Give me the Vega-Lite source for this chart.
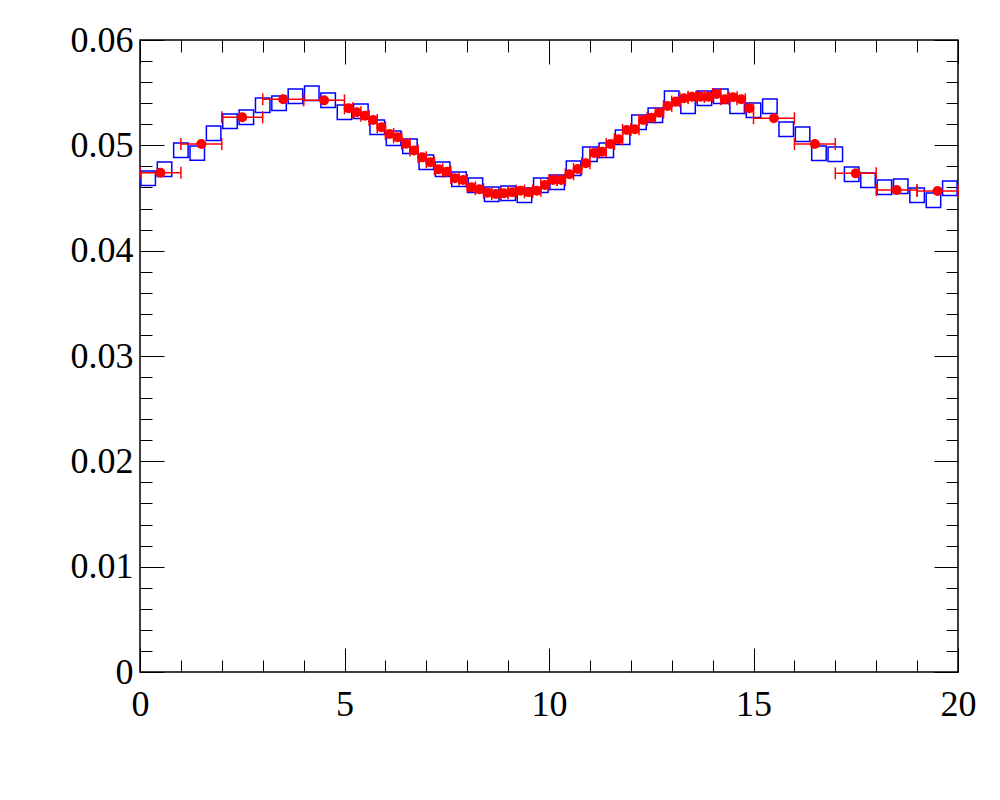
{
  "$schema": "https://vega.github.io/schema/vega-lite/v6.json",
  "width": 818,
  "height": 632,
  "autosize": {"type": "none"},
  "padding": {"left": 140, "top": 40, "right": 42, "bottom": 128},
  "background": "white",
  "config": {
    "view": {"stroke": "black", "strokeWidth": 1.5},
    "axis": {"labelFont": "Liberation Serif", "labelFontSize": 36, "labelColor": "black", "tickColor": "black", "tickWidth": 1, "domain": false, "grid": false, "title": null}
  },
  "datasets": {
    "blue": [
      {"x": 0.2, "y": 0.04687}, {"x": 0.6, "y": 0.04772}, {"x": 1.0, "y": 0.04953}, {"x": 1.4, "y": 0.04926},
      {"x": 1.8, "y": 0.05114}, {"x": 2.2, "y": 0.05228}, {"x": 2.6, "y": 0.05266}, {"x": 3.0, "y": 0.0538},
      {"x": 3.4, "y": 0.05399}, {"x": 3.8, "y": 0.05465}, {"x": 4.2, "y": 0.05494}, {"x": 4.6, "y": 0.05427},
      {"x": 5.0, "y": 0.05314}, {"x": 5.4, "y": 0.05323}, {"x": 5.8, "y": 0.05171}, {"x": 6.2, "y": 0.05067},
      {"x": 6.6, "y": 0.04991}, {"x": 7.0, "y": 0.04839}, {"x": 7.4, "y": 0.04772}, {"x": 7.8, "y": 0.04678},
      {"x": 8.2, "y": 0.04621}, {"x": 8.6, "y": 0.04535}, {"x": 9.0, "y": 0.04545}, {"x": 9.4, "y": 0.04526},
      {"x": 9.8, "y": 0.04621}, {"x": 10.2, "y": 0.04649}, {"x": 10.6, "y": 0.04782}, {"x": 11.0, "y": 0.04916},
      {"x": 11.4, "y": 0.04953}, {"x": 11.8, "y": 0.05076}, {"x": 12.2, "y": 0.05219}, {"x": 12.6, "y": 0.05285},
      {"x": 13.0, "y": 0.05447}, {"x": 13.4, "y": 0.05371}, {"x": 13.8, "y": 0.05447}, {"x": 14.2, "y": 0.05466},
      {"x": 14.6, "y": 0.05371}, {"x": 15.0, "y": 0.05333}, {"x": 15.4, "y": 0.05371}, {"x": 15.8, "y": 0.05152},
      {"x": 16.2, "y": 0.05105}, {"x": 16.6, "y": 0.04925}, {"x": 17.0, "y": 0.04915}, {"x": 17.4, "y": 0.04725},
      {"x": 17.8, "y": 0.04668}, {"x": 18.2, "y": 0.04602}, {"x": 18.6, "y": 0.04611}, {"x": 19.0, "y": 0.04526},
      {"x": 19.4, "y": 0.04478}, {"x": 19.8, "y": 0.04592}
    ],
    "red": [
      {"x": 0.5, "lo": 0, "hi": 1, "y": 0.0474},
      {"x": 1.5, "lo": 1, "hi": 2, "y": 0.05013},
      {"x": 2.5, "lo": 2, "hi": 3, "y": 0.05266},
      {"x": 3.5, "lo": 3, "hi": 4, "y": 0.05437},
      {"x": 4.5, "lo": 4, "hi": 5, "y": 0.05427},
      {"x": 5.1, "lo": 5.0, "hi": 5.2, "y": 0.05352},
      {"x": 5.3, "lo": 5.2, "hi": 5.4, "y": 0.05314},
      {"x": 5.5, "lo": 5.4, "hi": 5.6, "y": 0.05282},
      {"x": 5.7, "lo": 5.6, "hi": 5.8, "y": 0.05241},
      {"x": 5.9, "lo": 5.8, "hi": 6.0, "y": 0.05171},
      {"x": 6.1, "lo": 6.0, "hi": 6.2, "y": 0.05108},
      {"x": 6.3, "lo": 6.2, "hi": 6.4, "y": 0.05076},
      {"x": 6.5, "lo": 6.4, "hi": 6.6, "y": 0.05016},
      {"x": 6.7, "lo": 6.6, "hi": 6.8, "y": 0.04952},
      {"x": 6.9, "lo": 6.8, "hi": 7.0, "y": 0.04886},
      {"x": 7.1, "lo": 7.0, "hi": 7.2, "y": 0.04839},
      {"x": 7.3, "lo": 7.2, "hi": 7.4, "y": 0.04772},
      {"x": 7.5, "lo": 7.4, "hi": 7.6, "y": 0.0475},
      {"x": 7.7, "lo": 7.6, "hi": 7.8, "y": 0.04687},
      {"x": 7.9, "lo": 7.8, "hi": 8.0, "y": 0.04671},
      {"x": 8.1, "lo": 8.0, "hi": 8.2, "y": 0.04601},
      {"x": 8.3, "lo": 8.2, "hi": 8.4, "y": 0.04583},
      {"x": 8.5, "lo": 8.4, "hi": 8.6, "y": 0.04551},
      {"x": 8.7, "lo": 8.6, "hi": 8.8, "y": 0.04538},
      {"x": 8.9, "lo": 8.8, "hi": 9.0, "y": 0.04545},
      {"x": 9.1, "lo": 9.0, "hi": 9.2, "y": 0.04554},
      {"x": 9.3, "lo": 9.2, "hi": 9.4, "y": 0.0457},
      {"x": 9.5, "lo": 9.4, "hi": 9.6, "y": 0.04554},
      {"x": 9.7, "lo": 9.6, "hi": 9.8, "y": 0.0457},
      {"x": 9.9, "lo": 9.8, "hi": 10.0, "y": 0.04624},
      {"x": 10.1, "lo": 10.0, "hi": 10.2, "y": 0.04671},
      {"x": 10.3, "lo": 10.2, "hi": 10.4, "y": 0.04671},
      {"x": 10.5, "lo": 10.4, "hi": 10.6, "y": 0.04725},
      {"x": 10.7, "lo": 10.6, "hi": 10.8, "y": 0.04775},
      {"x": 10.9, "lo": 10.8, "hi": 11.0, "y": 0.0483},
      {"x": 11.1, "lo": 11.0, "hi": 11.2, "y": 0.04928},
      {"x": 11.3, "lo": 11.2, "hi": 11.4, "y": 0.0494},
      {"x": 11.5, "lo": 11.4, "hi": 11.6, "y": 0.05013},
      {"x": 11.7, "lo": 11.6, "hi": 11.8, "y": 0.05057},
      {"x": 11.9, "lo": 11.8, "hi": 12.0, "y": 0.05146},
      {"x": 12.1, "lo": 12.0, "hi": 12.2, "y": 0.05152},
      {"x": 12.3, "lo": 12.2, "hi": 12.4, "y": 0.05241},
      {"x": 12.5, "lo": 12.4, "hi": 12.6, "y": 0.05263},
      {"x": 12.7, "lo": 12.6, "hi": 12.8, "y": 0.0531},
      {"x": 12.9, "lo": 12.8, "hi": 13.0, "y": 0.05374},
      {"x": 13.1, "lo": 13.0, "hi": 13.2, "y": 0.05415},
      {"x": 13.3, "lo": 13.2, "hi": 13.4, "y": 0.05447},
      {"x": 13.5, "lo": 13.4, "hi": 13.6, "y": 0.05462},
      {"x": 13.7, "lo": 13.6, "hi": 13.8, "y": 0.05462},
      {"x": 13.9, "lo": 13.8, "hi": 14.0, "y": 0.05462},
      {"x": 14.1, "lo": 14.0, "hi": 14.2, "y": 0.05488},
      {"x": 14.3, "lo": 14.2, "hi": 14.4, "y": 0.05437},
      {"x": 14.5, "lo": 14.4, "hi": 14.6, "y": 0.05456},
      {"x": 14.7, "lo": 14.6, "hi": 14.8, "y": 0.05437},
      {"x": 14.9, "lo": 14.8, "hi": 15.0, "y": 0.05352},
      {"x": 15.5, "lo": 15, "hi": 16, "y": 0.05257},
      {"x": 16.5, "lo": 16, "hi": 17, "y": 0.05013},
      {"x": 17.5, "lo": 17, "hi": 18, "y": 0.04734},
      {"x": 18.5, "lo": 18, "hi": 19, "y": 0.04576},
      {"x": 19.5, "lo": 19, "hi": 20, "y": 0.04567}
    ]
  },
  "layer": [
    {
      "data": {"name": "blue"},
      "mark": {"type": "point", "shape": "square", "filled": false, "size": 210, "stroke": "#0000ff", "strokeWidth": 1.5, "opacity": 1},
      "encoding": {
        "x": {"field": "x", "type": "quantitative", "scale": {"domain": [0, 20], "nice": false, "zero": false},
          "axis": {"orient": "bottom", "values": [0,1,2,3,4,5,6,7,8,9,10,11,12,13,14,15,16,17,18,19,20],
            "tickSize": {"condition": {"test": "datum.value % 5 === 0", "value": -24}, "value": -12},
            "labelExpr": "datum.value % 5 === 0 ? datum.label : ''", "labelPadding": 39, "labelFlush": false, "labelOverlap": false}},
        "y": {"field": "y", "type": "quantitative", "scale": {"domain": [0, 0.06], "nice": false, "zero": false},
          "axis": {"orient": "left", "values": [0,0.002,0.004,0.006,0.008,0.01,0.012,0.014,0.016,0.018,0.02,0.022,0.024,0.026,0.028,0.03,0.032,0.034,0.036,0.038,0.04,0.042,0.044,0.046,0.048,0.05,0.052,0.054,0.056,0.058,0.06],
            "tickSize": {"condition": {"test": "abs(datum.value*100 - round(datum.value*100)) < 0.000001", "value": -24}, "value": -12},
            "labelExpr": "abs(datum.value*100 - round(datum.value*100)) < 0.000001 ? (datum.value === 0 ? '0' : format(datum.value, '.2f')) : ''",
            "labelPadding": 31, "labelFlush": false, "labelOverlap": false, "labelBaseline": "middle"}}
      }
    },
    {
      "data": {"name": "red"},
      "mark": {"type": "rule", "color": "#ff0000", "strokeWidth": 1.5},
      "encoding": {
        "x": {"field": "lo", "type": "quantitative",
          "axis": {"orient": "top", "values": [0,1,2,3,4,5,6,7,8,9,10,11,12,13,14,15,16,17,18,19,20],
            "tickSize": {"condition": {"test": "datum.value % 5 === 0", "value": -24}, "value": -12}, "labels": false}},
        "x2": {"field": "hi"},
        "y": {"field": "y", "type": "quantitative",
          "axis": {"orient": "right", "values": [0,0.002,0.004,0.006,0.008,0.01,0.012,0.014,0.016,0.018,0.02,0.022,0.024,0.026,0.028,0.03,0.032,0.034,0.036,0.038,0.04,0.042,0.044,0.046,0.048,0.05,0.052,0.054,0.056,0.058,0.06],
            "tickSize": {"condition": {"test": "abs(datum.value*100 - round(datum.value*100)) < 0.000001", "value": -24}, "value": -12}, "labels": false}}
      }
    },
    {
      "data": {"name": "red"},
      "mark": {"type": "tick", "orient": "vertical", "color": "#ff0000", "size": 12, "thickness": 1.5, "opacity": 1},
      "encoding": {
        "x": {"field": "lo", "type": "quantitative", "axis": null},
        "y": {"field": "y", "type": "quantitative", "axis": null}
      }
    },
    {
      "data": {"name": "red"},
      "mark": {"type": "tick", "orient": "vertical", "color": "#ff0000", "size": 12, "thickness": 1.5, "opacity": 1},
      "encoding": {
        "x": {"field": "hi", "type": "quantitative", "axis": null},
        "y": {"field": "y", "type": "quantitative", "axis": null}
      }
    },
    {
      "data": {"name": "red"},
      "mark": {"type": "point", "shape": "circle", "filled": true, "size": 100, "color": "#ff0000", "opacity": 1},
      "encoding": {
        "x": {"field": "x", "type": "quantitative", "axis": null},
        "y": {"field": "y", "type": "quantitative", "axis": null}
      }
    }
  ],
  "resolve": {"axis": {"x": "independent", "y": "independent"}}
}
